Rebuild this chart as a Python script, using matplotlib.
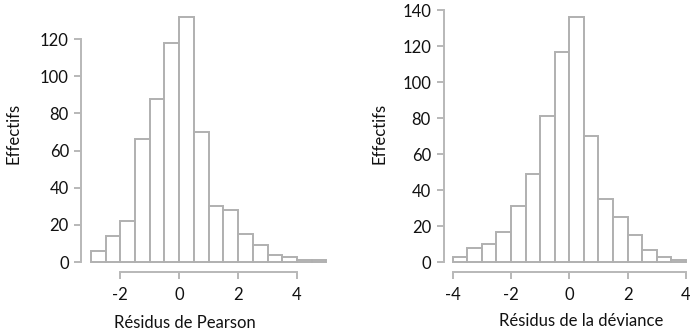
import matplotlib
matplotlib.use("Agg")
import matplotlib.pyplot as plt
import numpy as np

plt.rcParams['font.family'] = ['Lato', 'DejaVu Sans']

# Data
pearson_edges = [-3.0, -2.5, -2.0, -1.5, -1.0, -0.5, 0.0, 0.5, 1.0, 1.5, 2.0, 2.5, 3.0, 3.5, 4.0, 4.5, 5.0]
pearson_counts = [6, 14, 22, 66, 88, 118, 132, 70, 30, 28, 15, 9, 4, 3, 1, 1]
pearson_xticks = [-2, 0, 2, 4]
pearson_yticks = [0, 20, 40, 60, 80, 100, 120]

deviance_edges = [-4.0, -3.5, -3.0, -2.5, -2.0, -1.5, -1.0, -0.5, 0.0, 0.5, 1.0, 1.5, 2.0, 2.5, 3.0, 3.5, 4.0]
deviance_counts = [3, 8, 10, 17, 31, 49, 81, 117, 136, 70, 35, 25, 15, 7, 3, 1]
deviance_xticks = [-4, -2, 0, 2, 4]
deviance_yticks = [0, 20, 40, 60, 80, 100, 120, 140]

xlabels = ["Résidus de Pearson", "Résidus de la déviance"]
ylabel = "Effectifs"

W, H = 690, 336
fig = plt.figure(figsize=(W / 100, H / 100), dpi=100)

edge_col = "#b0b0b0"
spine_col = "#b8b8b8"
text_col = "#111111"
FS = 12


def px_axes(left, right, top, bottom):
    return fig.add_axes([left / W, 1 - bottom / H, (right - left) / W, (bottom - top) / H])


def draw(ax, edges, counts, xticks, yticks, xlabel):
    edges = np.asarray(edges)
    counts = np.asarray(counts)
    widths = np.diff(edges)
    ax.bar(edges[:-1], counts, width=widths, align='edge', facecolor='white',
           edgecolor=edge_col, linewidth=1.4)
    span = edges[-1] - edges[0]
    ax.set_xlim(edges[0] - 0.04 * span, edges[-1] + 0.04 * span)
    ym = counts.max()
    ax.set_ylim(-0.04 * ym, ym * 1.04)
    for s in ['top', 'right']:
        ax.spines[s].set_visible(False)
    for s in ['left', 'bottom']:
        ax.spines[s].set_color(spine_col)
        ax.spines[s].set_linewidth(1.4)
    ax.spines['bottom'].set_bounds(xticks[0], xticks[-1])
    ax.spines['left'].set_bounds(yticks[0], yticks[-1])
    ax.set_xticks(xticks)
    ax.set_yticks(yticks)
    ax.set_xticklabels([str(t) for t in xticks])
    ax.set_yticklabels([str(t) for t in yticks])
    ax.tick_params(axis='both', direction='out', length=5, width=1.4, color=spine_col,
                   labelsize=FS, labelcolor=text_col)
    ax.tick_params(axis='x', pad=6)
    ax.tick_params(axis='y', pad=4)
    ax.set_xlabel(xlabel, fontsize=FS, color=text_col)
    ax.set_ylabel(ylabel, fontsize=FS, color=text_col)
    ax.patch.set_visible(False)


ax1 = px_axes(81.4, 335.9, 6.9, 272.0)
draw(ax1, pearson_edges, pearson_counts, pearson_xticks, pearson_yticks, xlabels[0])
ax1.xaxis.set_label_coords((185 - 81.4) / 254.5, (272 - 315) / 265.1)
ax1.yaxis.set_label_coords((21 - 81.4) / 254.5, (272 - 133) / 265.1)

ax2 = px_axes(443.5, 695.1, 7.7, 272.0)
draw(ax2, deviance_edges, deviance_counts, deviance_xticks, deviance_yticks, xlabels[1])
ax2.xaxis.set_label_coords((581 - 443.5) / 251.6, (272 - 313) / 264.3)
ax2.yaxis.set_label_coords((388 - 443.5) / 251.6, (272 - 133) / 264.3)

fig.savefig("out.png", dpi=100)
